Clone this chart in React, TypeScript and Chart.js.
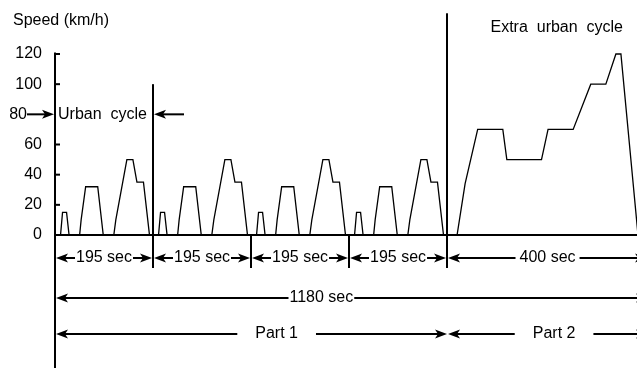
import { useEffect, useRef } from 'react';
import { Chart, registerables } from 'chart.js';

Chart.register(...registerables);

// ECE-15 urban cycle (seconds, km/h), repeated 4 times
const ECE_TIME = [0, 11, 15, 23, 28, 49, 52, 61, 85, 96, 117, 121, 143, 155, 163, 176, 188, 195];
const ECE_SPEED = [0, 0, 15, 15, 0, 0, 10, 32, 32, 0, 0, 10, 50, 50, 35, 35, 0, 0];
// Extra urban cycle (EUDC)
const EUDC_TIME = [0, 20, 36, 61, 111, 119, 188, 201, 251, 286, 316, 336, 346, 380, 400];
const EUDC_SPEED = [0, 0, 34, 70, 70, 50, 50, 70, 70, 100, 100, 120, 120, 0, 0];
const URBAN_REPEATS = 4;
const ECE_LENGTH = 195;

const Y_TICKS = [0, 20, 40, 60, 80, 100, 120];
const SEGMENT_BOUNDS = [0, 195, 390, 585, 780, 1180];
const SEGMENT_LABELS = ['195 sec', '195 sec', '195 sec', '195 sec', '400 sec'];
const TOTAL_BOUNDS = [0, 1180];
const TOTAL_LABEL = '1180 sec';
const PART_BOUNDS = [0, 780, 1180];
const PART_LABELS = ['Part 1', 'Part 2'];
const Y_TITLE = 'Speed (km/h)';
const URBAN_LABEL = 'Urban  cycle';
const EXTRA_LABEL = 'Extra  urban  cycle';

const FONT = '16px "Liberation Sans", Arial, sans-serif';

function buildPoints() {
  const pts: { x: number; y: number }[] = [];
  for (let k = 0; k < URBAN_REPEATS; k++) {
    ECE_TIME.forEach((t, i) => pts.push({ x: t + k * ECE_LENGTH, y: ECE_SPEED[i] }));
  }
  const off = URBAN_REPEATS * ECE_LENGTH;
  EUDC_TIME.forEach((t, i) => pts.push({ x: t + off, y: EUDC_SPEED[i] }));
  return pts;
}

function arrowHead(ctx: CanvasRenderingContext2D, x: number, y: number, dir: number) {
  const L = 12, W = 4.5, N = 3;
  ctx.beginPath();
  ctx.moveTo(x, y);
  ctx.lineTo(x - dir * L, y - W);
  ctx.lineTo(x - dir * (L - N), y);
  ctx.lineTo(x - dir * L, y + W);
  ctx.closePath();
  ctx.fill();
}

function hLine(ctx: CanvasRenderingContext2D, x1: number, x2: number, y: number) {
  if (x2 <= x1) return;
  ctx.beginPath();
  ctx.moveTo(x1, y);
  ctx.lineTo(x2, y);
  ctx.stroke();
}

function vLine(ctx: CanvasRenderingContext2D, x: number, y1: number, y2: number) {
  ctx.beginPath();
  ctx.moveTo(x, y1);
  ctx.lineTo(x, y2);
  ctx.stroke();
}

function dimension(ctx: CanvasRenderingContext2D, x1: number, x2: number, y: number, text: string, cx: number, gap: number) {
  const w = ctx.measureText(text).width;
  ctx.textAlign = 'center';
  ctx.textBaseline = 'middle';
  ctx.fillText(text, cx, y);
  hLine(ctx, x1 + 9, cx - w / 2 - gap, y);
  hLine(ctx, cx + w / 2 + gap, x2 - 9, y);
  arrowHead(ctx, x1, y, -1);
  arrowHead(ctx, x2, y, 1);
}

const annotations = {
  id: 'nedcAnnotations',
  afterDatasetsDraw(chart: any) {
    const ctx: CanvasRenderingContext2D = chart.ctx;
    const xs = chart.scales.x;
    const ys = chart.scales.y;
    const X = (t: number) => xs.getPixelForValue(t);
    const Y = (v: number) => ys.getPixelForValue(v);
    const x0 = X(0);
    const y0 = Y(0);
    ctx.save();
    ctx.fillStyle = '#000';
    ctx.strokeStyle = '#000';
    ctx.lineWidth = 2;
    ctx.font = FONT;

    // axes
    vLine(ctx, x0, Y(120) - 1.5, chart.height);
    hLine(ctx, x0 - 1, chart.width, y0);
    // inner tick marks
    Y_TICKS.forEach((v) => {
      if (v === 80 || v === 0) return;
      hLine(ctx, x0, x0 + 5, Y(v));
    });

    // titles
    ctx.textBaseline = 'middle';
    ctx.textAlign = 'left';
    ctx.fillText(Y_TITLE, 13, 21);
    ctx.textAlign = 'right';
    ctx.fillText(EXTRA_LABEL, 623, 28);

    // 80 -> Urban cycle <-
    const y80 = Y(80);
    ctx.textAlign = 'right';
    ctx.fillText('80', 27, y80 + 0.5);
    hLine(ctx, 27, x0 - 9, y80);
    arrowHead(ctx, x0 - 1, y80, 1);
    ctx.textAlign = 'left';
    ctx.fillText(URBAN_LABEL, x0 + 3, y80);
    const xU = X(SEGMENT_BOUNDS[1]);
    hLine(ctx, xU + 9, xU + 31, y80);
    arrowHead(ctx, xU + 1, y80, -1);

    // dividers
    const rowY = [258, 298, 334];
    const divBottom = rowY[0] + 10;
    vLine(ctx, X(SEGMENT_BOUNDS[1]), Y(100), divBottom);
    vLine(ctx, X(SEGMENT_BOUNDS[2]), y0, divBottom);
    vLine(ctx, X(SEGMENT_BOUNDS[3]), y0, divBottom);
    vLine(ctx, X(SEGMENT_BOUNDS[4]), Y(147), divBottom);

    // row 1: cycle durations
    for (let i = 0; i < SEGMENT_LABELS.length; i++) {
      const a = X(SEGMENT_BOUNDS[i]) + 1;
      const b = X(SEGMENT_BOUNDS[i + 1]) - 1;
      const gap = i === SEGMENT_LABELS.length - 1 ? 4 : 1;
      dimension(ctx, a, b, rowY[0], SEGMENT_LABELS[i], (a + b) / 2, gap);
    }
    // row 2: total
    dimension(ctx, X(TOTAL_BOUNDS[0]) + 1, X(TOTAL_BOUNDS[1]), rowY[1], TOTAL_LABEL, X(530), 1);
    // row 3: parts
    const partCenters = [441, 993];
    for (let i = 0; i < PART_LABELS.length; i++) {
      const a = X(PART_BOUNDS[i]) + 1;
      const b = X(PART_BOUNDS[i + 1]);
      dimension(ctx, a, b, rowY[2], PART_LABELS[i], X(partCenters[i]), 18);
    }
    ctx.restore();
  },
};

export default function App() {
  const ref = useRef<HTMLCanvasElement>(null);
  useEffect(() => {
    if (!ref.current) return;
    const chart = new Chart(ref.current, {
      type: 'line',
      data: {
        datasets: [
          {
            data: buildPoints(),
            borderColor: '#000',
            borderWidth: 1.3,
            pointRadius: 0,
            tension: 0,
            fill: false,
            clip: 4,
          } as any,
        ],
      },
      options: {
        animation: false,
        responsive: false,
        devicePixelRatio: 1,
        layout: { padding: { top: 54, bottom: 133, left: 0, right: 0 } },
        plugins: { legend: { display: false }, tooltip: { enabled: false } },
        scales: {
          x: { type: 'linear', min: 0, max: 1158, display: false },
          y: {
            min: 0,
            max: 120,
            afterFit: (s: any) => {
              s.width = 55;
            },
            grid: { display: false, drawTicks: false },
            border: { display: false },
            ticks: {
              stepSize: 20,
              autoSkip: false,
              padding: 13,
              color: '#000',
              font: { family: '"Liberation Sans", Arial, sans-serif', size: 16 },
              callback: (v: any) => (v === 80 ? '' : String(v)),
            },
          },
        },
      },
      plugins: [annotations],
    });
    return () => chart.destroy();
  }, []);
  return (
    <div style={{ position: 'absolute', left: 0, top: 0, width: 637, height: 368, background: '#fff' }}>
      <canvas ref={ref} width={637} height={368} style={{ display: 'block' }} />
    </div>
  );
}
